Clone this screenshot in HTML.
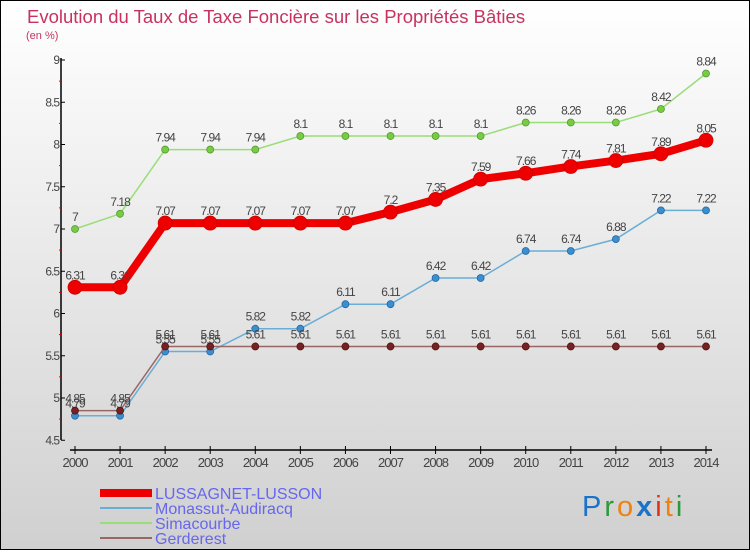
<!DOCTYPE html>
<html><head><meta charset="utf-8"><style>
body{margin:0;}
svg text{font-family:"Liberation Sans",sans-serif;}
</style></head><body>
<svg width="750" height="550" xmlns="http://www.w3.org/2000/svg">
<defs><linearGradient id="bg" x1="0" y1="0" x2="0" y2="1"><stop offset="0" stop-color="#ffffff"/><stop offset="1" stop-color="#d0d0d0"/></linearGradient></defs>
<rect x="0.5" y="0.5" width="749" height="549" fill="url(#bg)" stroke="#000"/>
<text x="27" y="23" font-size="18.5" fill="#c8325f">Evolution du Taux de Taxe Foncière sur les Propriétés Bâties</text>
<text x="26" y="39" font-size="11" fill="#c8325f">(en %)</text>
<g id="axes"></g>
<g id="series"></g>
<g>
<rect x="100" y="489" width="52" height="8" fill="#e00"/>
<text x="155" y="499" font-size="16" fill="#6666ee">LUSSAGNET-LUSSON</text>
<rect x="100" y="507" width="52" height="2" fill="#6aaed6"/>
<text x="155" y="514" font-size="16" fill="#6666ee">Monassut-Audiracq</text>
<rect x="100" y="522" width="52" height="2" fill="#99dd77"/>
<text x="155" y="529" font-size="16" fill="#6666ee">Simacourbe</text>
<rect x="100" y="537" width="52" height="2" fill="#996666"/>
<text x="155" y="544" font-size="16" fill="#6666ee">Gerderest</text>
</g>
<text x="582" y="516" font-size="29" letter-spacing="3"><tspan fill="#1a73c8">P</tspan><tspan fill="#2a9a3a">r</tspan><tspan fill="#f08010">o</tspan><tspan fill="#1a73c8" font-weight="bold">x</tspan><tspan fill="#e03020">i</tspan><tspan fill="#f08010">t</tspan><tspan fill="#2a9a3a">i</tspan></text>
</svg>
<script>
const years=[2000,2001,2002,2003,2004,2005,2006,2007,2008,2009,2010,2011,2012,2013,2014];
const lussagnet=[6.31,6.31,7.07,7.07,7.07,7.07,7.07,7.2,7.35,7.59,7.66,7.74,7.81,7.89,8.05];
const monassut=[4.79,4.79,5.55,5.55,5.82,5.82,6.11,6.11,6.42,6.42,6.74,6.74,6.88,7.22,7.22];
const simacourbe=[7,7.18,7.94,7.94,7.94,8.1,8.1,8.1,8.1,8.1,8.26,8.26,8.26,8.42,8.84];
const gerderest=[4.85,4.85,5.61,5.61,5.61,5.61,5.61,5.61,5.61,5.61,5.61,5.61,5.61,5.61,5.61];
const yTicks=[4.5,5,5.5,6,6.5,7,7.5,8,8.5,9];
const NS="http://www.w3.org/2000/svg";
const x=i=>75+i*(706-75)/14;
const y=v=>60+(9-v)*84.5;
function mk(t,a,p){const e=document.createElementNS(NS,t);for(const k in a)e.setAttribute(k,a[k]);p.appendChild(e);return e;}
const ax=document.getElementById('axes');
let l=mk('line',{x1:61,y1:58,x2:61,y2:440,stroke:'#000','stroke-width':1.5},ax);


yTicks.forEach(v=>{mk('line',{x1:61,x2:65,y1:y(v),y2:y(v),stroke:'#000'},ax);
 if(v<9)mk('line',{x1:59,x2:61,y1:y(v+0.25),y2:y(v+0.25),stroke:'#e00'},ax);
 const t=mk('text',{x:59,y:y(v)+4,'text-anchor':'end','font-size':12,fill:'#444','letter-spacing':'-1'},ax);t.textContent=v;
 
 });
l=mk('line',{x1:70,y1:450,x2:712,y2:450,stroke:'#000','stroke-width':1.5},ax);


years.forEach((yr,i)=>{mk('line',{x1:x(i),x2:x(i),y1:446,y2:454,stroke:'#000'},ax);
 const t=mk('text',{x:x(i),y:467,'text-anchor':'middle','font-size':13,fill:'#444','letter-spacing':'-1'},ax);t.textContent=yr;
 
 });
const sg=document.getElementById('series');
function draw(name,vals,color,w,r,dot,stroke){
 const g=mk('g',{},sg);
 
 
 mk('polyline',{points:vals.map((v,i)=>x(i)+','+y(v)).join(' '),fill:'none',stroke:color,'stroke-width':w},g);
 vals.forEach((v,i)=>{const c=mk('circle',{cx:x(i),cy:y(v),r:r,fill:dot,stroke:stroke,'stroke-width':0.8},g);
  
  
  const t=mk('text',{x:x(i),y:y(v)-8,'text-anchor':'middle','font-size':12,fill:'#444','letter-spacing':'-1'},g);t.textContent=v;});
}
draw('simacourbe',simacourbe,'#99dd77',1.5,3.5,'#77cc44','#559933');
draw('monassut',monassut,'#6aaed6',1.5,3.5,'#3a8fcc','#2266aa');
draw('gerderest',gerderest,'#996666',1.5,3.5,'#772222','#551111');
draw('lussagnet',lussagnet,'#ee0000',8,7,'#ee0000','#cc0000');
</script>
</body></html>
